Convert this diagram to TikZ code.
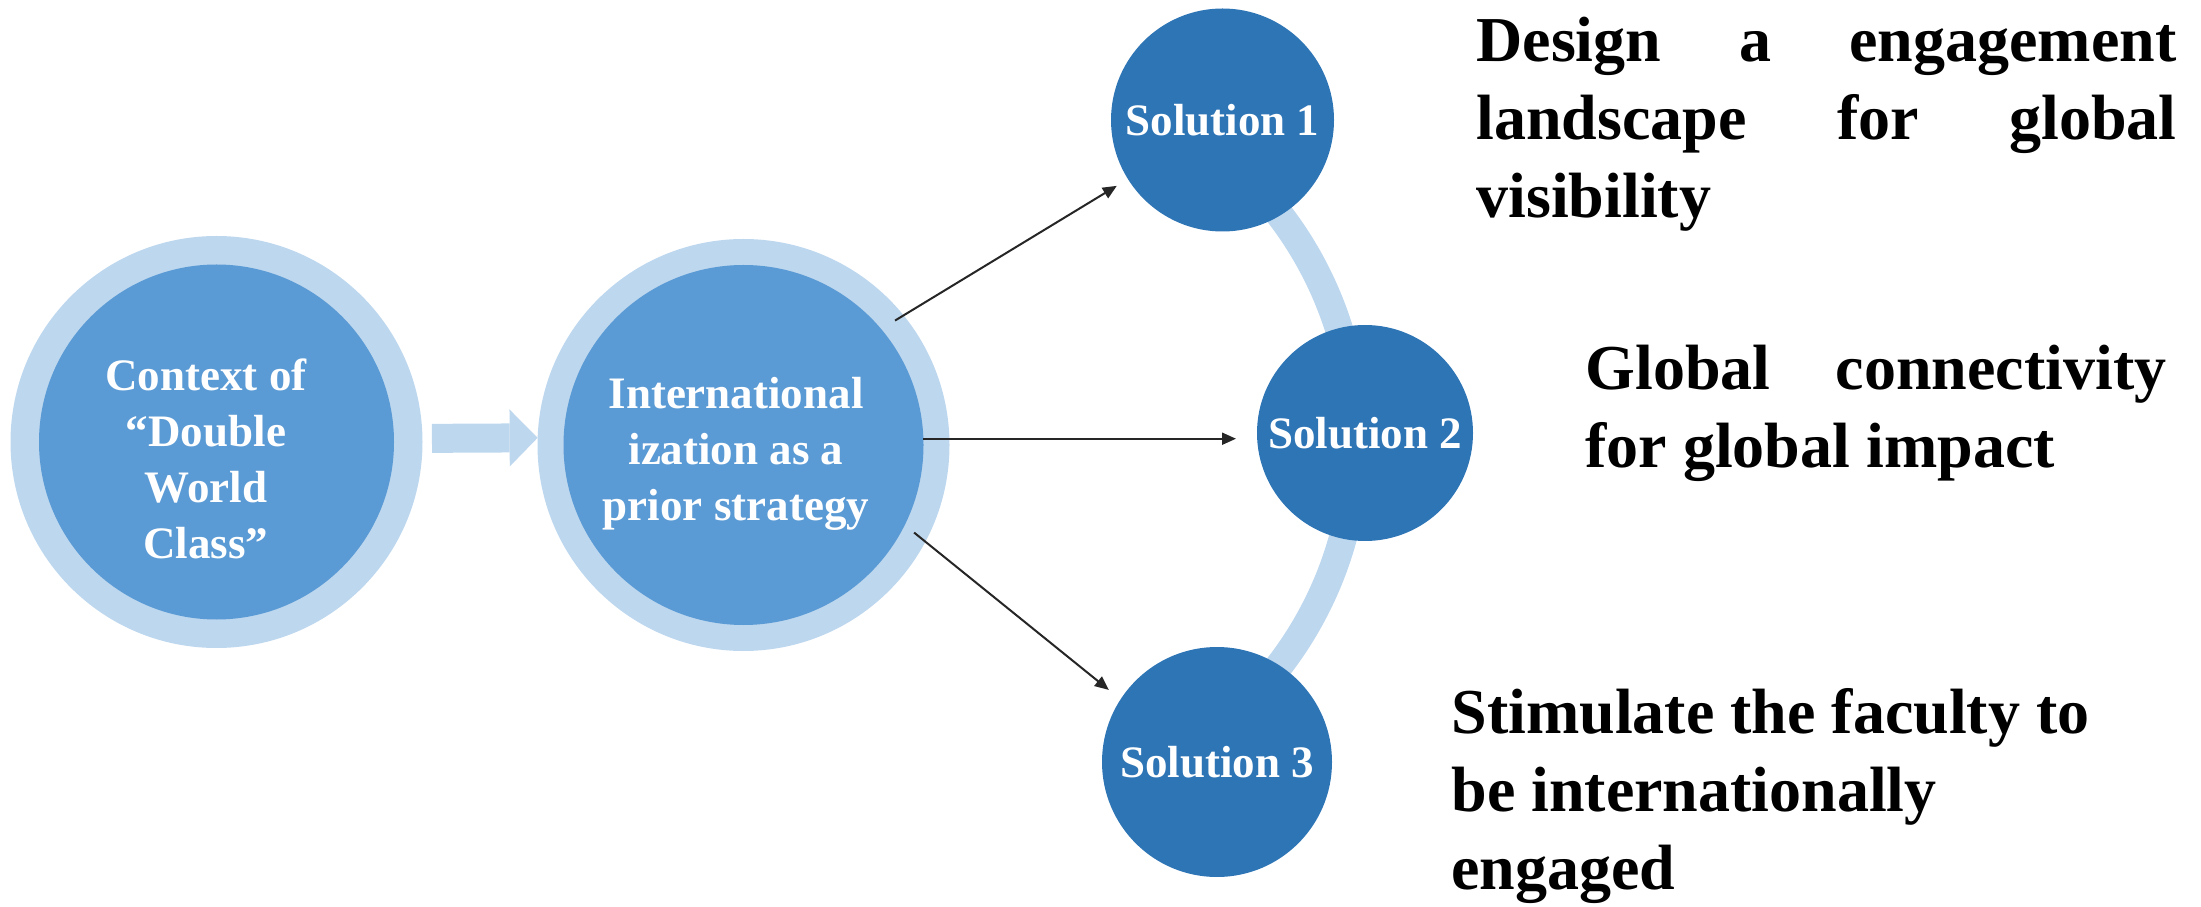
\documentclass[tikz,border=0pt]{standalone}
\usepackage{fontspec}
\setmainfont{Liberation Serif}
\usetikzlibrary{arrows.meta,calc}
\definecolor{ringc}{HTML}{BDD7EE}
\definecolor{midc}{HTML}{5B9BD5}
\definecolor{solc}{HTML}{2E75B6}
\definecolor{linec}{HTML}{262626}
\begin{document}
\begin{tikzpicture}[x=0.5pt,y=0.5pt,
  ringdisc/.style={circle, fill=ringc, inner sep=0pt, outer sep=0pt, minimum size=#1},
  innerdisc/.style={circle, fill=midc, inner sep=0pt, outer sep=0pt, minimum size=#1},
  soldisc/.style={circle, fill=solc, text=white, inner sep=0pt, outer sep=0pt, minimum size=#1,
    font=\bfseries\fontsize{22.5pt}{28pt}\selectfont},
  circtext/.style={anchor=base, inner sep=0pt, text=white, font=\bfseries},
  sidetext/.style={anchor=base west, inner sep=0pt, text=black, font=\bfseries},
  band/.style={draw=ringc, line width=14pt},
  link/.style={draw=linec, line width=1pt, -{Triangle[length=7pt,width=6pt]}},
  bigarrow/.style={draw=ringc, line width=14.5pt, -{Triangle[length=14pt,width=28.5pt,line width=0pt]}}
]
\useasboundingbox (0,0) rectangle (2201,906);

% left circle
\node[ringdisc=206pt] (c1o) at (216.5,464) {};
\node[innerdisc=177.5pt] (c1) at (216.5,464) {};
\node[circtext] (t1) at (206,515) {\parbox[t]{200pt}{\fontsize{22.5pt}{28pt}\selectfont\centering Context of\\“Double\\World\\Class”}};

% middle circle
\node[ringdisc=206pt] (c2o) at (743.5,461) {};
\node[innerdisc=180pt] (c2) at (743.5,461) {};
\node[circtext] (t2) at (736,497) {\parbox[t]{200pt}{\fontsize{22.5pt}{28pt}\selectfont\centering International\\ization as a\\prior strategy}};

% block arrow
\draw[bigarrow, shorten <=4.75pt] (c1o.1) -- (c2o.178);

% band behind solutions
\coordinate (arcc) at (986,466);
\draw[band] ($(arcc)+(62:185pt)$) arc[start angle=62, end angle=-62, radius=185pt];

% solutions
\node[soldisc=111.5pt] (s1) at (1222.5,786) {Solution 1};
\node[soldisc=108pt] (s2) at (1365,473) {Solution 2};
\node[soldisc=115pt] (s3) at (1217,144) {Solution 3};

% connectors
\draw[link, shorten <=-5pt, shorten >=6.5pt] (c2o.39.3) -- (s1.212.4);
\draw[link, shorten >=10.5pt] (c2.2.5) -- (c2.2.5 -| s2.west);
\draw[link, shorten <=-7.25pt, shorten >=7.5pt] (c2o.-28.4) -- (s3.147.5);

% side texts
\node[sidetext] (d1) at (1476,844) {\parbox[t]{350pt}{\fontsize{32pt}{39pt}\selectfont
  \hbox to 350pt{Design\hfill a\hfill engagement}
  \hbox to 350pt{landscape\hfill for\hfill global}
  \hbox{visibility}}};
\node[sidetext] (d2) at (1585,516) {\parbox[t]{290.5pt}{\fontsize{32pt}{39pt}\selectfont
  \hbox to 290.5pt{Global\hfill connectivity}
  \hbox{for global impact}}};
\node[sidetext] (d3) at (1451,173) {\parbox[t]{330pt}{\fontsize{32pt}{39pt}\selectfont
  \hbox{Stimulate the faculty to}
  \hbox{be internationally}
  \hbox{engaged}}};
\end{tikzpicture}
\end{document}
